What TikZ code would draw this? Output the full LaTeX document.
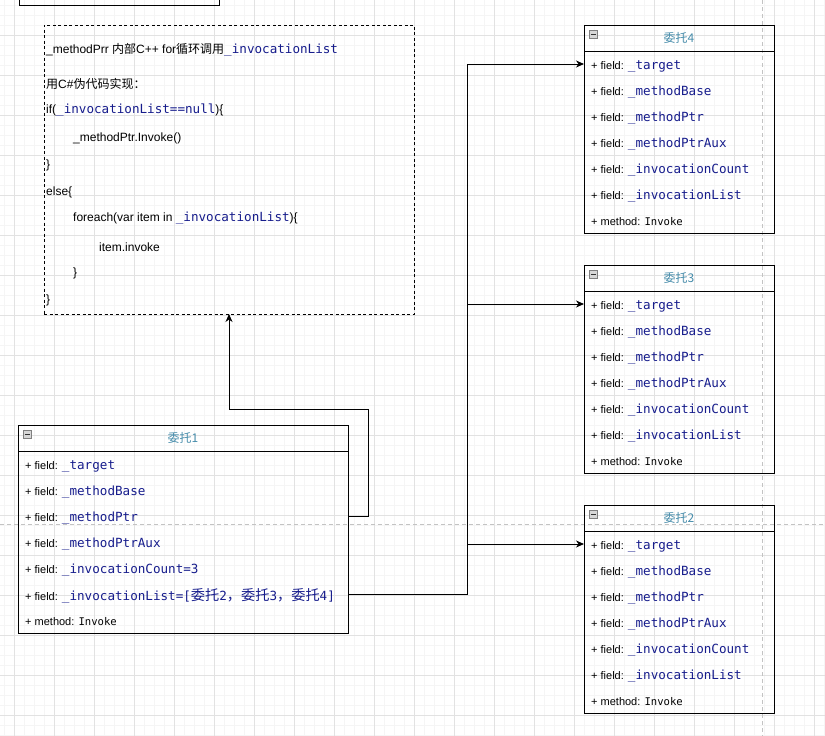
\documentclass[tikz,border=0pt]{standalone}
\usepackage{fontspec}
\setmainfont{Liberation Sans}
\newfontfamily\cjk{Noto Sans CJK SC}
\newfontfamily\monof{DejaVu Sans Mono}
\usetikzlibrary{arrows.meta}
\definecolor{codeblue}{RGB}{22,28,140}
\definecolor{titleteal}{RGB}{70,140,170}
\definecolor{gridmajor}{RGB}{226,226,226}
\definecolor{gridminor}{RGB}{245,245,245}
\definecolor{pagebreak}{RGB}{195,195,195}
\definecolor{iconfill}{RGB}{215,215,215}
\definecolor{iconline}{RGB}{128,128,128}
\newcommand{\cd}[1]{{\monof\fontsize{12.6}{14}\selectfont\color{codeblue}#1}}
\newcommand{\cdcjk}[1]{{\cjk\fontsize{14.2}{15}\selectfont\color{codeblue}#1}}
\newcommand{\fld}[1]{+ field: \cd{#1}}
\newcommand{\mtd}{+ method: {\monof\fontsize{10.6}{12}\selectfont Invoke}}
\tikzset{
  boxline/.style={draw=black, line width=1pt},
  clsframe/.style={boxline, inner sep=0pt, outer sep=0pt, minimum height=208pt},
  codebox/.style={draw=black, line width=1pt, dash pattern=on 3pt off 2.5pt, inner sep=0pt, outer sep=0pt},
  codetxt/.style={anchor=west, inner sep=0pt, font=\fontsize{12}{14}\selectfont},
  rowtxt/.style={anchor=west, inner sep=0pt, font=\fontsize{11}{13}\selectfont},
  titletext/.style={inner sep=0pt, text=titleteal, font=\cjk\fontsize{12}{14}\selectfont},
  minusicon/.style={draw=iconline, fill=iconfill, line width=0.8pt, minimum size=8pt, inner sep=0pt},
  conn/.style={draw=black, line width=1pt},
  arr/.style={conn, -{Stealth[length=8pt,width=7pt,inset=2.5pt]}},
}
\newcommand{\umlframe}[5]{%
  \node[clsframe, minimum width=#4pt, anchor=north west] (#1) at (#2,#3) {};
  \draw[boxline] ([yshift=-26.5pt]#1.north west) -- ([yshift=-26.5pt]#1.north east);
  \node[titletext] (#1t) at ([yshift=-12.8pt]#1.north) {#5};
  \node[minusicon] (#1i) at ([xshift=9.5pt,yshift=-9.7pt]#1.north west) {};
  \draw[line width=1pt, draw=black!80] ([xshift=-2.6pt]#1i.center) -- ([xshift=2.6pt]#1i.center);
}
\begin{document}
\begin{tikzpicture}[x=1pt,y=-1pt]
\useasboundingbox (0,0) rectangle (825,736);
\clip (0,0) rectangle (825,736);
\fill[white] (0,0) rectangle (825,736);
% grid
\foreach \x in {4,14,...,824} \draw[gridminor, line width=1pt] (\x,0) -- (\x,736);
\foreach \y in {5,15,...,735} \draw[gridminor, line width=1pt] (0,\y) -- (825,\y);
\foreach \x in {14,54,...,814} \draw[gridmajor, line width=1pt] (\x,0) -- (\x,736);
\foreach \y in {35,75,...,715} \draw[gridmajor, line width=1pt] (0,\y) -- (825,\y);
% page break lines
\draw[pagebreak, line width=1pt, dash pattern=on 4pt off 3pt] (0,524) -- (825,524);
\draw[pagebreak, line width=1pt, dash pattern=on 4pt off 3pt] (762,0) -- (762,736);
% partial box at top left
\node[boxline, inner sep=0pt, outer sep=0pt, minimum width=200pt, minimum height=20pt, anchor=south west] (topbox) at (19,5) {};
% code box
\node[codebox, minimum width=370pt, minimum height=289pt, anchor=north west] (code) at (44,25) {};
\node[codetxt] (l1) at (46,49.5) {\_methodPrr {\cjk 内部}C++ for{\cjk 循环调用}\cd{\_invocationList}};
\node[codetxt] (l2) at (46,83.5) {{\cjk 用}C\#{\cjk 伪代码实现：}};
\node[codetxt] (l3) at (46,110.5) {if(\cd{\_invocationList==null})\{};
\node[codetxt] (l4) at (73,138.5) {\_methodPtr.Invoke()};
\node[codetxt] (l5) at (46,165.5) {\}};
\node[codetxt] (l6) at (46,192.5) {else\{};
\node[codetxt] (l7) at (73,218.5) {foreach(var item in \cd{\_invocationList})\{};
\node[codetxt] (l8) at (99,247.5) {item.invoke};
\node[codetxt] (l9) at (73,273.5) {\}};
\node[codetxt] (l10) at (46,300.5) {\}};
% class boxes
\umlframe{b1}{18}{425}{330}{委托1}
\umlframe{b4}{584}{25}{190}{委托4}
\umlframe{b3}{584}{265}{190}{委托3}
\umlframe{b2}{584}{505}{190}{委托2}
% rows of b1
\node[rowtxt] (b1r1) at (25,466.5) {\fld{\_target}};
\node[rowtxt] (b1r2) at (25,492.5) {\fld{\_methodBase}};
\node[rowtxt] (b1r3) at (25,518.5) {\fld{\_methodPtr}};
\node[rowtxt] (b1r4) at (25,544.5) {\fld{\_methodPtrAux}};
\node[rowtxt] (b1r5) at (25,570.5) {\fld{\_invocationCount=3}};
\node[rowtxt] (b1r6) at (25,596.5) {+ field: \cd{\_invocationList=[}\cdcjk{委托}\cd{2}\cdcjk{，委托}\cd{3}\cdcjk{，委托}\cd{4]}};
\node[rowtxt] (b1r7) at (25,622) {\mtd};
% rows of b4, b3, b2
\foreach \b/\y in {b4/66.5, b3/306.5, b2/546.5} {
  \node[rowtxt] (\b r1) at (591,\y) {\fld{\_target}};
  \node[rowtxt] (\b r2) at (591,\y+26) {\fld{\_methodBase}};
  \node[rowtxt] (\b r3) at (591,\y+52) {\fld{\_methodPtr}};
  \node[rowtxt] (\b r4) at (591,\y+78) {\fld{\_methodPtrAux}};
  \node[rowtxt] (\b r5) at (591,\y+104) {\fld{\_invocationCount}};
  \node[rowtxt] (\b r6) at (591,\y+130) {\fld{\_invocationList}};
  \node[rowtxt] (\b r7) at (591,\y+155.5) {\mtd};
}
% connectors
\coordinate (bus) at (467,0);
\coordinate (c1) at (368,409);
\draw[arr] ([yshift=2.5pt]b1.east |- b1r6) -- ([yshift=2.5pt]bus |- b1r6) -- ([yshift=2.5pt]bus |- b4r1) -- ([yshift=2.5pt]b4.west |- b4r1);
\draw[arr] ([yshift=2.5pt]bus |- b3r1) -- ([yshift=2.5pt]b3.west |- b3r1);
\draw[arr] ([yshift=2.5pt]bus |- b2r1) -- ([yshift=2.5pt]b2.west |- b2r1);
\draw[arr] ([yshift=2.5pt]b1.east |- b1r3) -- ([yshift=2.5pt]c1 |- b1r3) -- (c1) -- (code.south |- c1) -- (code.south);
\end{tikzpicture}
\end{document}
